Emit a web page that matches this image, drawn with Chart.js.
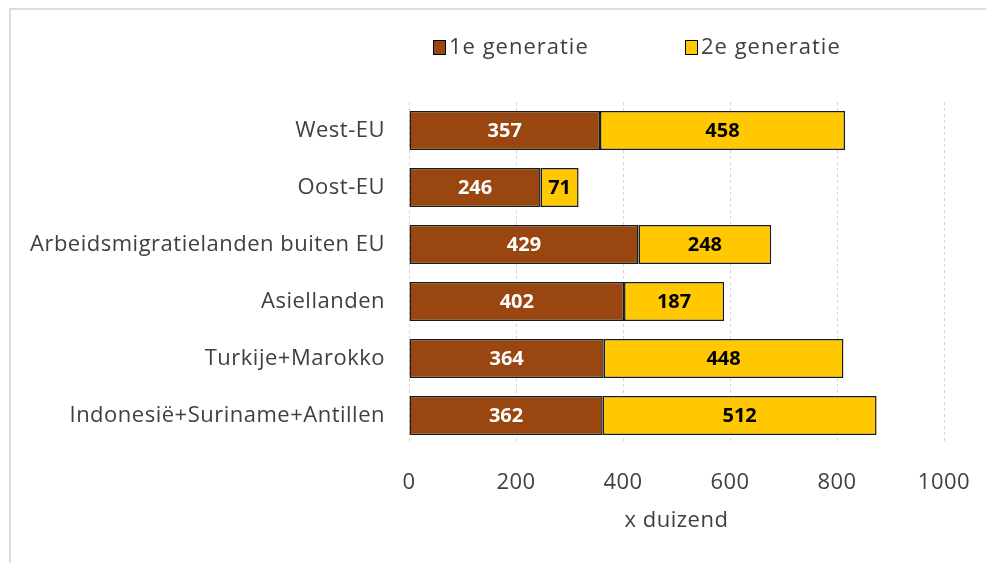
<!DOCTYPE html>
<html>
<head>
<meta charset="utf-8">
<script src="https://cdn.jsdelivr.net/npm/chart.js@4"></script>
<style>
  html, body { margin: 0; padding: 0; background: #fff; }
  #wrap { position: relative; width: 986px; height: 563px; overflow: hidden; }
  #frame { position: absolute; left: 9px; top: 8px; width: 1000px; height: 600px;
           border-top: 2px solid #dcdcdc; border-left: 2px solid #dcdcdc; }
  #chart { position: absolute; left: 0; top: 0; }
</style>
</head>
<body>
<div id="wrap">
  <div id="frame"></div>
  <canvas id="chart" width="986" height="563"></canvas>
</div>
<script>
// Categories and values (x 1000)
const categories = [
    'West-EU',
    'Oost-EU',
    'Arbeidsmigratielanden buiten EU',
    'Asiellanden',
    'Turkije+Marokko',
    'Indonesië+Suriname+Antillen'
];
const firstGen = [357, 246, 429, 402, 364, 362];
const secondGen = [458, 71, 248, 187, 448, 512];
const xTicks = [0, 200, 400, 600, 800, 1000];

const brown = '#9a4610';
const yellow = '#ffc800';
const textColor = '#404040';
const fontFamily = "'Open Sans', 'Noto Sans', sans-serif";

// a bit of letter spacing, the original font runs wider
const spacing = {
    id: 'spacing',
    beforeUpdate(chart) { chart.ctx.letterSpacing = '0.5px'; },
    beforeDraw(chart) { chart.ctx.letterSpacing = '0.5px'; }
};

// Draws the value in the middle of each bar segment
const barLabels = {
    id: 'barLabels',
    afterDatasetsDraw(chart) {
        const ctx = chart.ctx;
        ctx.save();
        ctx.font = 'bold 20px ' + fontFamily;
        ctx.letterSpacing = '0px';
        ctx.textAlign = 'center';
        ctx.textBaseline = 'middle';
        chart.data.datasets.forEach((ds, i) => {
            const meta = chart.getDatasetMeta(i);
            ctx.fillStyle = i === 0 ? '#ffffff' : '#000000';
            meta.data.forEach((bar, j) => {
                const p = bar.getCenterPoint();
                ctx.fillText(ds.data[j], p.x, p.y + 1);
            });
        });
        ctx.restore();
    }
};

// Legend above the plot, placed like the original
const topLegend = {
    id: 'topLegend',
    afterDraw(chart) {
        const ctx = chart.ctx;
        const starts = [433, 685];
        ctx.save();
        ctx.font = '22px ' + fontFamily;
        ctx.letterSpacing = '1px';
        ctx.textBaseline = 'middle';
        chart.data.datasets.forEach((ds, i) => {
            const x = starts[i];
            ctx.fillStyle = ds.backgroundColor;
            ctx.fillRect(x, 40, 13, 15);
            ctx.strokeStyle = '#000';
            ctx.lineWidth = 1;
            ctx.strokeRect(x + 0.5, 40.5, 12, 14);
            ctx.fillStyle = textColor;
            ctx.fillText(ds.label, x + 16, 48);
        });
        ctx.restore();
    }
};

const ctx = document.getElementById('chart').getContext('2d');
new Chart(ctx, {
    type: 'bar',
    data: {
        labels: categories,
        datasets: [
            {
                label: '1e generatie',
                data: firstGen,
                backgroundColor: brown,
                borderColor: '#1a1a1a',
                borderWidth: 1.5,
                borderSkipped: false
            },
            {
                label: '2e generatie',
                data: secondGen,
                backgroundColor: yellow,
                borderColor: '#1a1a1a',
                borderWidth: 1.5,
                borderSkipped: false
            }
        ]
    },
    options: {
        indexAxis: 'y',
        responsive: false,
        animation: false,
        layout: { padding: { top: 102, right: 42, left: 0, bottom: 0 } },
        datasets: {
            bar: { categoryPercentage: 1, barPercentage: 0.684 }
        },
        plugins: {
            legend: { display: false },
            tooltip: { enabled: false }
        },
        scales: {
            x: {
                stacked: true,
                min: 0,
                max: 1000,
                afterBuildTicks(scale) {
                    scale.ticks = xTicks.map(v => ({ value: v }));
                },
                afterFit(scale) { scale.height = 119; },
                grid: { color: '#d4d4d4', drawTicks: true, tickLength: 26, tickColor: 'rgba(0,0,0,0)' },
                border: { display: false, dash: [3, 3] },
                ticks: {
                    padding: 0,
                    color: textColor,
                    font: { family: fontFamily, size: 22 },
                    callback: v => String(v)
                },
                title: {
                    display: true,
                    text: 'x duizend',
                    color: textColor,
                    font: { family: fontFamily, size: 22 },
                    padding: { top: 0, bottom: 29 }
                }
            },
            y: {
                stacked: true,
                afterFit(scale) { scale.width = 409; },
                grid: { display: false, drawTicks: false },
                border: { display: false },
                ticks: {
                    padding: 24,
                    color: textColor,
                    font: { family: fontFamily, size: 22 }
                }
            }
        }
    },
    plugins: [spacing, barLabels, topLegend]
});
</script>
</body>
</html>
